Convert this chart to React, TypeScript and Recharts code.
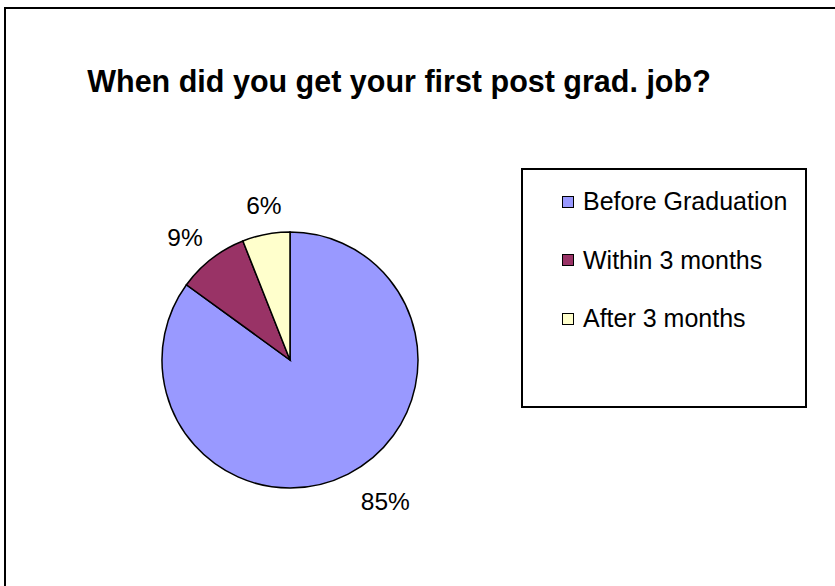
import React from 'react';
import { PieChart, Pie, Cell, Legend } from 'recharts';

const categories = ['Before Graduation', 'Within 3 months', 'After 3 months'];
const percentages = [85, 9, 6];
const sliceColors = ['#9999FF', '#993366', '#FFFFCC'];
const titleText = 'When did you get your first post grad. job?';

const data = categories.map((name, i) => ({ name, value: percentages[i] }));

// small nudges for the data labels (Excel "best fit" placement)
const labelNudge: Record<string, [number, number]> = {
  'Before Graduation': [25, 3],
  'Within 3 months': [-10, 0],
  'After 3 months': [3, -2],
};

const FONT = '"Liberation Sans", Arial, sans-serif';
const RAD = Math.PI / 180;

const renderLabel = (props: any) => {
  const { cx, cy, midAngle, outerRadius, name, value } = props;
  const r = outerRadius + 27;
  const [dx, dy] = labelNudge[name] || [0, 0];
  const x = cx + r * Math.cos(-midAngle * RAD) + dx;
  const y = cy + r * Math.sin(-midAngle * RAD) + dy;
  return (
    <text
      x={x}
      y={y}
      textAnchor="middle"
      dominantBaseline="central"
      fontFamily={FONT}
      fontSize={24.5}
      fill="#000"
    >
      {`${value}%`}
    </text>
  );
};

const LegendBox = () => (
  <div
    style={{
      boxSizing: 'border-box',
      width: 286,
      height: 240,
      border: '2px solid #000',
      background: '#fff',
      position: 'relative',
      fontFamily: FONT,
    }}
  >
    {categories.map((c, i) => (
      <div
        key={c}
        style={{
          position: 'absolute',
          left: 39,
          top: 17.5 + i * 58.5,
          height: 28,
          display: 'flex',
          alignItems: 'center',
          fontSize: 25,
          whiteSpace: 'nowrap',
          color: '#000',
        }}
      >
        <span
          style={{
            display: 'inline-block',
            width: 12,
            height: 12,
            boxSizing: 'border-box',
            border: '1.5px solid #000',
            background: sliceColors[i],
            marginRight: 9,
          }}
        />
        {c}
      </div>
    ))}
  </div>
);

export default function App() {
  return (
    <div
      style={{
        position: 'absolute',
        left: 0,
        top: 0,
        width: 835,
        height: 586,
        overflow: 'hidden',
        background: '#fff',
      }}
    >
      <svg
        width={835}
        height={586}
        style={{ position: 'absolute', left: 0, top: 0 }}
      >
        <rect x={5} y={8} width={900} height={700} fill="none" stroke="#000" strokeWidth={2} />
        <text
          x={399}
          y={92}
          textAnchor="middle"
          fontFamily={FONT}
          fontWeight="bold"
          fontSize={30.5}
          fill="#000"
        >
          {titleText}
        </text>
      </svg>
      <div style={{ position: 'absolute', left: 0, top: 0 }}>
        <PieChart width={835} height={586} margin={{ top: 0, right: 0, bottom: 0, left: 0 }}>
          <Pie
            data={data}
            dataKey="value"
            nameKey="name"
            cx={290}
            cy={360}
            outerRadius={128}
            startAngle={90}
            endAngle={-270}
            stroke="#000"
            strokeWidth={1.5}
            label={renderLabel}
            labelLine={false}
            isAnimationActive={false}
          >
            {data.map((d, i) => (
              <Cell key={d.name} fill={sliceColors[i]} />
            ))}
          </Pie>
          <Legend
            layout="vertical"
            align="right"
            verticalAlign="top"
            content={() => <LegendBox />}
            wrapperStyle={{ position: 'absolute', left: 521, top: 168, width: 286, height: 240 }}
          />
        </PieChart>
      </div>
    </div>
  );
}
